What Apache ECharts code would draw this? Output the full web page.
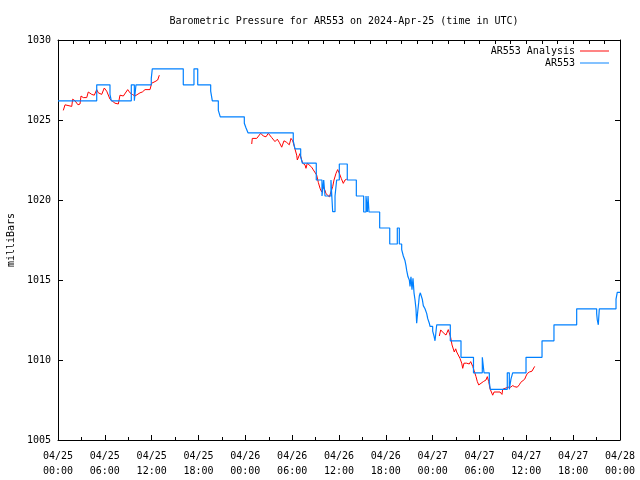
<!DOCTYPE html>
<html>
<head>
<meta charset="utf-8">
<script src="https://cdn.jsdelivr.net/npm/echarts@6/dist/echarts.min.js"></script>
<style>html,body{margin:0;padding:0;background:#fff}#c{width:640px;height:480px}</style>
</head>
<body>
<div id="c"></div>
<script>
// hours since 2024-04-25 00:00 UTC
var xTickLabels = ['04/25\n00:00','04/25\n06:00','04/25\n12:00','04/25\n18:00','04/26\n00:00','04/26\n06:00','04/26\n12:00','04/26\n18:00','04/27\n00:00','04/27\n06:00','04/27\n12:00','04/27\n18:00','04/28\n00:00'];

var analysisHours = [
 0.68,0.90,1.15,1.76,1.88,2.18,2.56,2.82,2.95,3.24,3.68,3.88,4.32,4.65,4.96,5.16,5.60,5.93,6.24,6.66,7.30,7.73,7.94,8.37,8.58,8.93,9.22,9.52,9.86,10.51,10.80,11.15,11.79,12.00,12.43,12.77,12.98,
 18,
 24.82,24.89,25.46,25.66,25.97,26.30,26.65,26.94,27.38,27.80,28.10,28.35,28.66,28.95,29.30,29.63,29.85,30.07,30.27,30.58,30.66,30.88,31.00,31.22,31.35,31.64,31.77,31.94,32.19,32.50,32.71,32.92,33.14,33.35,33.57,33.78,33.99,34.21,34.33,34.50,34.76,34.97,35.19,35.36,35.62,35.83,35.96,36.13,36.29,36.55,36.77,36.99,
 42,
 48.85,49.03,49.36,49.71,50.00,50.13,50.31,50.48,50.64,50.77,50.95,51.08,51.28,51.50,51.72,51.85,52.01,52.36,52.69,52.87,53.13,53.30,53.55,53.72,53.90,54.15,54.49,54.83,55.00,55.18,55.35,55.51,55.69,55.86,56.02,56.37,56.63,56.88,56.97,57.39,57.65,57.99,58.25,58.51,58.84,59.10,59.28,59.53,59.79,59.96,60.12,60.38,60.72,60.89,61.07
];
var analysisValues = [
 1025.6,1025.95,1025.85,1025.85,1026.3,1026.2,1025.95,1026.0,1026.5,1026.4,1026.4,1026.75,1026.6,1026.55,1026.9,1026.7,1026.6,1027.0,1026.8,1026.3,1026.05,1026.0,1026.55,1026.5,1026.4,1026.9,1026.7,1026.6,1026.5,1026.7,1026.75,1026.9,1026.9,1027.3,1027.4,1027.5,1027.8,
 null,
 1023.5,1023.85,1023.85,1023.8,1024.17,1024.0,1023.95,1024.17,1023.9,1023.65,1023.8,1023.6,1023.3,1023.7,1023.6,1023.45,1023.85,1023.7,1023.35,1022.8,1022.5,1022.5,1022.9,1022.5,1022.3,1022.2,1021.98,1022.3,1022.25,1022.05,1021.88,1021.95,1021.56,1021.1,1020.73,1020.5,1020.8,1020.6,1020.4,1020.3,1020.2,1020.3,1020.83,1021.25,1021.67,1021.9,1021.95,1021.56,1021.35,1021.04,1021.25,1021.3,
 null,
 1011.5,1011.88,1011.7,1011.56,1011.9,1011.7,1011.4,1010.94,1010.85,1010.5,1010.7,1010.5,1010.4,1010.1,1009.8,1009.48,1009.8,1009.8,1009.75,1009.9,1009.6,1009.35,1008.96,1008.65,1008.44,1008.55,1008.65,1008.75,1008.96,1008.65,1008.2,1008.1,1007.8,1008.0,1008.1,1008.0,1008.0,1007.85,1008.17,1008.25,1008.3,1008.3,1008.4,1008.33,1008.3,1008.45,1008.6,1008.7,1008.8,1009.0,1009.15,1009.25,1009.3,1009.3,1009.6
];

var stationHours = [
 0,4.96,6.66,6.83,9.39,9.78,9.99,11.95,12.08,16.05,17.42,17.90,19.56,19.77,20.54,20.79,23.87,24.09,24.34,30.14,30.36,31.09,31.30,33.09,33.82,34.04,34.21,34.97,35.19,35.49,35.70,36.04,37.06,38.22,39.16,39.46,39.63,39.72,39.84,41.21,42.50,43.47,43.73,
 44.03,44.24,44.46,44.58,44.67,44.84,45.01,45.10,45.22,45.35,45.48,45.61,45.74,45.86,45.95,46.08,46.21,46.29,46.42,46.67,46.80,47.02,47.24,47.36,47.57,47.66,48.00,48.17,48.30,48.52,
 50.26,51.63,53.23,54.36,54.58,55.26,55.38,57.56,57.82,58.03,58.25,59.96,62.01,63.54,66.45,69.01,69.09,69.22,69.35,71.49,71.65,72
];
var stationValues = [
 1026.2,1027.2,1026.6,1026.2,1027.2,1026.2,1027.2,1027.6,1028.2,1027.2,1028.2,1027.2,1026.8,1026.2,1025.6,1025.2,1024.8,1024.5,1024.2,1023.7,1023.2,1022.7,1022.3,1021.25,1020.25,1021.25,1020.25,1021.25,1019.27,1020.25,1021.25,1022.25,1021.25,1020.25,1019.25,1020.25,1019.25,1020.25,1019.25,1018.25,1017.25,1018.25,1017.25,
 1016.9,1016.5,1016.2,1015.9,1015.6,1015.2,1015.0,1014.6,1015.2,1014.4,1015.1,1014.2,1013.75,1013.2,1012.3,1013.0,1013.6,1014.0,1014.2,1013.8,1013.4,1013.2,1012.9,1012.6,1012.3,1012.1,1011.8,1011.5,1011.2,1012.2,
 1011.2,1010.17,1009.2,1010.17,1009.2,1008.6,1008.17,1009.2,1008.17,1008.8,1009.2,1010.17,1011.2,1012.2,1013.2,1012.9,1012.5,1012.2,1013.2,1013.8,1014.23,1014.23
];

function zip(a, b) { var r = []; for (var i = 0; i < a.length; i++) r.push([a[i], b[i]]); return r; }

var FONT = 'DejaVu Sans Mono';
var chart = echarts.init(document.getElementById('c'), null, {renderer: 'canvas'});
var axisLine = {show: true, onZero: false, lineStyle: {color: '#000', width: 1}};
chart.setOption({
  animation: false,
  backgroundColor: '#fff',
  title: {
    text: 'Barometric Pressure for AR553 on 2024-Apr-25 (time in UTC)',
    left: 339, top: 11, textAlign: 'center',
    textStyle: {fontFamily: FONT, fontSize: 10, fontWeight: 'normal', color: '#000'}
  },
  legend: [
    {data: ['AR553 Analysis'], right: 31, top: 46, padding: 0, align: 'right', itemWidth: 29, itemHeight: 10,
     icon: 'path://M0,0H30V1H0Z', textStyle: {fontFamily: FONT, fontSize: 10, color: '#000'}},
    {data: ['AR553'], right: 31, top: 58, padding: 0, align: 'right', itemWidth: 29, itemHeight: 10,
     icon: 'path://M0,0H30V1H0Z', textStyle: {fontFamily: FONT, fontSize: 10, color: '#000'}}
  ],
  grid: {left: 58, right: 20, top: 40, bottom: 40, containLabel: false, outerBoundsMode: 'none'},
  xAxis: [
    {type: 'value', min: 0, max: 72, interval: 6, position: 'bottom',
     axisLine: axisLine, splitLine: {show: false},
     axisTick: {show: true, inside: true, length: 5, lineStyle: {color: '#000'}},
     minorTick: {show: true, splitNumber: 2, length: 3, lineStyle: {color: '#000'}},
     axisLabel: {margin: 9, fontFamily: FONT, fontSize: 10, color: '#000', lineHeight: 15,
       formatter: function (v) { return xTickLabels[Math.round(v / 6)]; }}},
    {type: 'value', min: 0, max: 72, interval: 2, position: 'top',
     axisLine: axisLine, splitLine: {show: false},
     axisTick: {show: true, inside: true, length: 4, lineStyle: {color: '#000'}},
     axisLabel: {show: false}}
  ],
  yAxis: [
    {type: 'value', min: 1005, max: 1030, interval: 5, position: 'left',
     axisLine: axisLine, splitLine: {show: false},
     axisTick: {show: true, inside: true, length: 5, lineStyle: {color: '#000'}},
     axisLabel: {margin: 7, fontFamily: FONT, fontSize: 10, color: '#000',
       formatter: function (v) { return String(v); }},
     name: 'milliBars', nameLocation: 'middle', nameGap: 36, nameRotate: 90,
     nameTextStyle: {fontFamily: FONT, fontSize: 10, color: '#000'}},
    {type: 'value', min: 1005, max: 1030, interval: 5, position: 'right',
     axisLine: axisLine, splitLine: {show: false},
     axisTick: {show: true, inside: true, length: 5, lineStyle: {color: '#000'}},
     axisLabel: {show: false}}
  ],
  series: [
    {name: 'AR553 Analysis', type: 'line', xAxisIndex: 0, yAxisIndex: 0,
     data: zip(analysisHours, analysisValues), showSymbol: false, symbol: 'none',
     connectNulls: false, itemStyle: {color: '#ff0000'}, lineStyle: {color: '#ff0000', width: 1}},
    {name: 'AR553', type: 'line', step: 'end', xAxisIndex: 0, yAxisIndex: 0,
     data: zip(stationHours, stationValues), showSymbol: false, symbol: 'none',
     itemStyle: {color: '#0080ff'}, lineStyle: {color: '#0080ff', width: 1.2}}
  ]
});
</script>
</body>
</html>
